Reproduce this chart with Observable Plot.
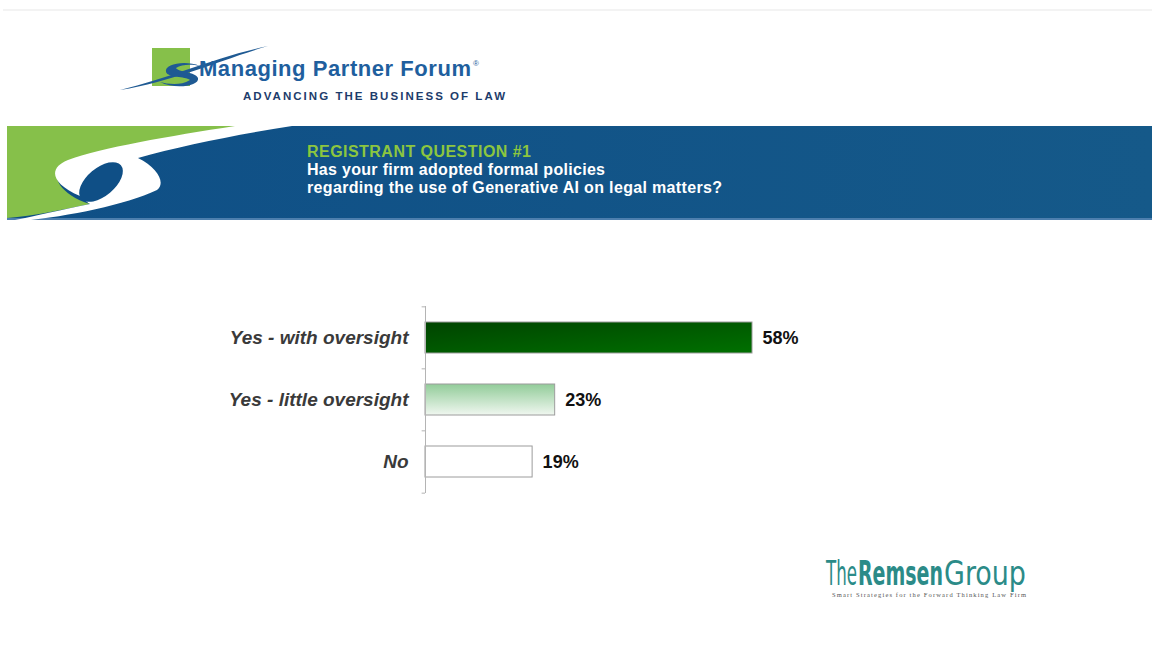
<!DOCTYPE html>
<html>
<head>
<meta charset="utf-8">
<script src="https://cdn.jsdelivr.net/npm/d3@7"></script>
<script src="https://cdn.jsdelivr.net/npm/@observablehq/plot@0.6"></script>
<style>
  html, body { margin: 0; padding: 0; background: #ffffff; }
  #chart { width: 1152px; height: 646px; overflow: hidden; }
</style>
</head>
<body>
<div id="chart"></div>
<script>
// ---- data ----
const categories = ["Yes - with oversight", "Yes - little oversight", "No"];
const values = [58, 23, 19];
const valueLabels = ["58%", "23%", "19%"];
const questionLabel = "REGISTRANT QUESTION #1";
const questionLines = ["Has your firm adopted formal policies", "regarding the use of Generative AI on legal matters?"];

const data = categories.map((c, i) => ({ category: c, value: values[i], label: valueLabels[i] }));
const barFill = { "Yes - with oversight": "url(#gWith)", "Yes - little oversight": "url(#gLittle)", "No": "#ffffff" };

const font = "'Liberation Sans', Arial, sans-serif";
const step = (493 - 306) / categories.length;

const chart = Plot.plot({
  width: 1152,
  height: 646,
  marginTop: 306,
  marginBottom: 153,
  marginLeft: 425,
  marginRight: 400,
  style: { fontFamily: font, background: "#ffffff", overflow: "visible" },
  x: { domain: [0, 58], axis: null },
  y: { domain: categories, paddingInner: 0.5, paddingOuter: 0.25, axis: null },
  color: { type: "identity" },
  marks: [
    Plot.barX(data, { x: "value", y: "category", fill: d => barFill[d.category], stroke: "#9c9c9c", strokeWidth: 1 }),
    Plot.ruleX([0], { stroke: "#b4b4b4", strokeWidth: 1 }),
    Plot.ruleY(categories, { y: d => d, x1: -0.6, x2: 0, dy: -step / 2, stroke: "#b4b4b4" }),
    Plot.ruleY(categories.slice(-1), { y: d => d, x1: -0.6, x2: 0, dy: step / 2, stroke: "#b4b4b4" }),
    Plot.text(data, { x: 0, y: "category", text: "category", dx: -17, textAnchor: "end",
      fontSize: 19, fontWeight: "bold", fontStyle: "italic", fill: "#3a3a3a" }),
    Plot.text(data, { x: "value", y: "category", text: "label", dx: 10, textAnchor: "start",
      fontSize: 18, fontWeight: "bold", fill: "#111111" })
  ]
});
document.getElementById("chart").appendChild(chart);

const svg = d3.select(chart);

// ---- gradients ----
const defs = svg.insert("defs", ":first-child");
const g1 = defs.append("linearGradient").attr("id", "gWith").attr("x1", 0).attr("y1", 0).attr("x2", 1).attr("y2", 1);
g1.append("stop").attr("offset", "0%").attr("stop-color", "#004400");
g1.append("stop").attr("offset", "100%").attr("stop-color", "#007000");
const g2 = defs.append("linearGradient").attr("id", "gLittle").attr("x1", 0).attr("y1", 0).attr("x2", 0).attr("y2", 1);
g2.append("stop").attr("offset", "0%").attr("stop-color", "#92cc99");
g2.append("stop").attr("offset", "100%").attr("stop-color", "#f0f7f0");
const g3 = defs.append("linearGradient").attr("id", "gBanner").attr("x1", 0).attr("y1", 0).attr("x2", 1).attr("y2", 0);
g3.append("stop").attr("offset", "0%").attr("stop-color", "#0f4f86");
g3.append("stop").attr("offset", "100%").attr("stop-color", "#155989");

// ---- decoration ----
const deco = svg.append("g").attr("class", "decoration").attr("text-anchor", "start");

// faint top rule
deco.append("rect").attr("x", 3).attr("y", 9).attr("width", 1149).attr("height", 2).attr("fill", "#f3f3f3");

// Managing Partner Forum logo
deco.append("rect").attr("x", 152).attr("y", 48).attr("width", 38).attr("height", 38).attr("fill", "#86c04a");
deco.append("path")
  .attr("d", "M120,90 C170,78 215,57 268,46 C220,60 175,81 120,90 Z")
  .attr("fill", "#1f5a93");
deco.append("path")
  .attr("d", "M200,66 C185,60 164,64 166,72 C168,78 185,76 190,80 C180,86 168,84 160,82 C175,90 200,86 198,78 C196,72 178,72 176,68 C182,64 192,64 200,66 Z")
  .attr("fill", "#1f5a93");
deco.append("text").attr("x", 199).attr("y", 76).attr("font-family", font).attr("font-weight", "bold")
  .attr("font-size", 22).attr("fill", "#1f5f9e").attr("textLength", 272).text("Managing Partner Forum");
deco.append("text").attr("x", 473).attr("y", 66).attr("font-family", font)
  .attr("font-size", 8).attr("fill", "#1f5f9e").text("®");
deco.append("text").attr("x", 243).attr("y", 100).attr("font-family", font).attr("font-weight", "bold")
  .attr("font-size", 11.5).attr("fill", "#1d3c6b").attr("textLength", 262).text("ADVANCING THE BUSINESS OF LAW");

// banner
deco.append("rect").attr("x", 7).attr("y", 126).attr("width", 1145).attr("height", 94).attr("fill", "url(#gBanner)");
deco.append("rect").attr("x", 7).attr("y", 218).attr("width", 1145).attr("height", 2).attr("fill", "#4d7fae");
deco.append("path")
  .attr("d", "M7,126 H250 C170,136 90,150 60,165 C50,175 60,195 90,204 C60,210 35,216 7,218 Z")
  .attr("fill", "#86c04a");
deco.append("path")
  .attr("d", "M292,126 L235,126 C170,136 100,148 68,160 C50,167 48,182 80,196 C85,200 88,203 90,204 C60,210 35,216 15,220 L22,221 C70,216 125,205 157,190 C166,183 158,168 138,158 C180,146 240,134 292,126 Z")
  .attr("fill", "#ffffff");
deco.append("ellipse").attr("cx", 101).attr("cy", 182).attr("rx", 26).attr("ry", 14)
  .attr("transform", "rotate(-40 101 182)").attr("fill", "#0f4f86");

deco.append("text").attr("x", 307).attr("y", 157).attr("font-family", font).attr("font-weight", "bold")
  .attr("font-size", 16).attr("fill", "#8cc63f").attr("textLength", 224).text(questionLabel);
const qLens = [298, 415];
questionLines.forEach((t, i) => {
  deco.append("text").attr("x", 307).attr("y", 175 + i * 18).attr("font-family", font).attr("font-weight", "bold")
    .attr("font-size", 16).attr("fill", "#ffffff").attr("textLength", qLens[i]).text(t);
});

// The Remsen Group logo (three separate words, squeezed horizontally by transform)
const rgFont = "'DejaVu Sans Condensed', 'Liberation Sans Narrow', sans-serif";
[["The", 826, 31, "200"], ["Remsen", 858, 85, "bold"], ["Group", 944, 82, "200"]].forEach(([t, x, len, w]) => {
  const el = deco.append("text").attr("x", 0).attr("y", 0).attr("font-family", rgFont).attr("font-weight", w)
    .attr("font-size", 33).attr("fill", "#2b8b88").text(t);
  const natural = el.node().getComputedTextLength() || len;
  el.attr("transform", `translate(${x},585) scale(${len / natural},1)`);
});
deco.append("text").attr("x", 832).attr("y", 597).attr("font-family", "'Liberation Serif', serif")
  .attr("font-size", 6.5).attr("fill", "#555555").attr("textLength", 194)
  .text("Smart Strategies for the Forward Thinking Law Firm");
</script>
</body>
</html>
